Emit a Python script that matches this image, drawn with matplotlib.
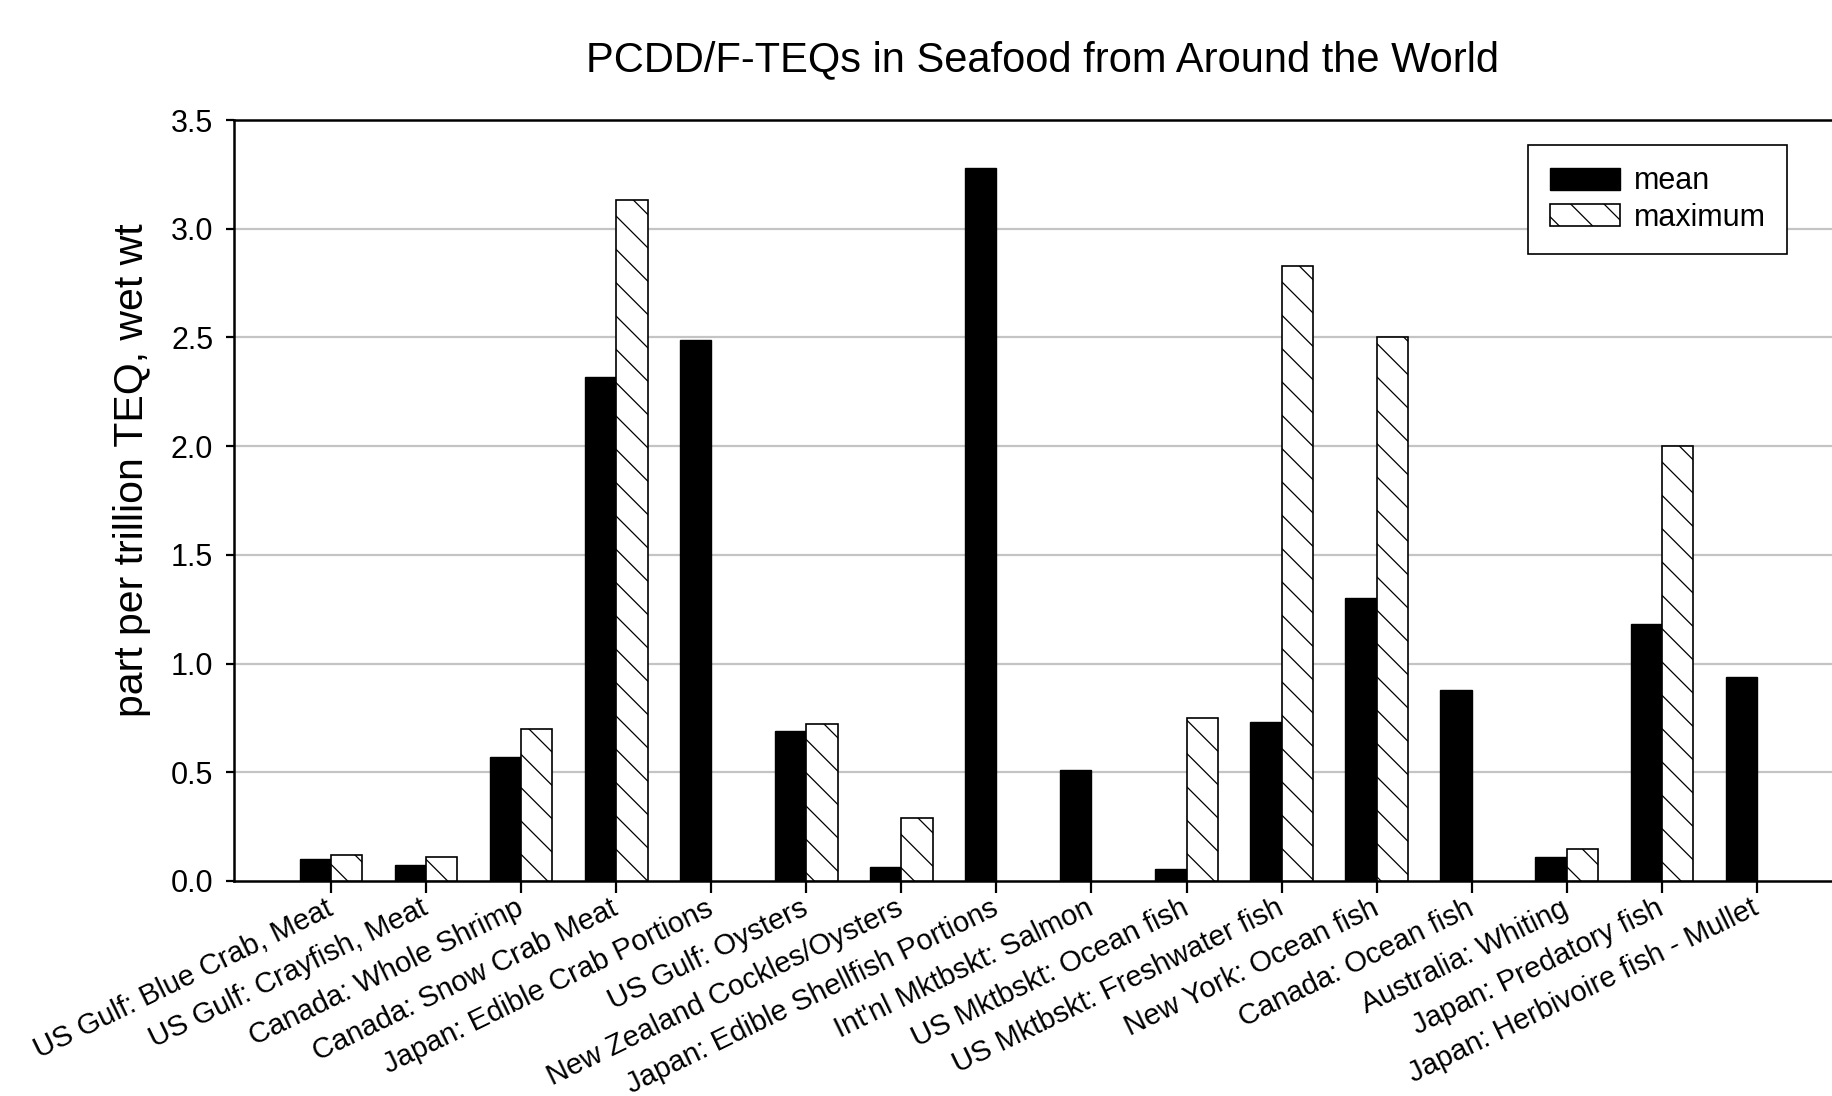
import matplotlib
matplotlib.use("Agg")
import matplotlib.pyplot as plt
import numpy as np

categories = [
    "US Gulf: Blue Crab, Meat",
    "US Gulf: Crayfish, Meat",
    "Canada: Whole Shrimp",
    "Canada: Snow Crab Meat",
    "Japan: Edible Crab Portions",
    "US Gulf: Oysters",
    "New Zealand Cockles/Oysters",
    "Japan: Edible Shellfish Portions",
    "Int'nl Mktbskt: Salmon",
    "US Mktbskt: Ocean fish",
    "US Mktbskt: Freshwater fish",
    "New York: Ocean fish",
    "Canada: Ocean fish",
    "Australia: Whiting",
    "Japan: Predatory fish",
    "Japan: Herbivoire fish - Mullet",
]
mean_vals = [0.10, 0.075, 0.57, 2.32, 2.49, 0.69, 0.065, 3.28, 0.51, 0.055, 0.73, 1.30, 0.88, 0.11, 1.18, 0.94]
max_vals = [0.12, 0.11, 0.70, 3.13, np.nan, 0.72, 0.29, np.nan, np.nan, 0.75, 2.83, 2.50, np.nan, 0.145, 2.00, np.nan]
yticks = [0.0, 0.5, 1.0, 1.5, 2.0, 2.5, 3.0, 3.5]

plt.rcParams['font.family'] = ['Liberation Sans', 'DejaVu Sans']
plt.rcParams['hatch.linewidth'] = 0.9

fig = plt.figure(figsize=(18.33, 10.96), dpi=100)
ax = fig.add_axes([234/1833, 215/1096, 1 - 234/1833, 761/1096])

x = np.arange(len(categories))
w = 0.33
ax.bar(x - w/2, mean_vals, width=w, color='black', edgecolor='black', linewidth=1.0, label='mean', zorder=3)
ax.bar(x + w/2, max_vals, width=w, color='white', edgecolor='black', linewidth=1.2, hatch='\\', label='maximum', zorder=3)

ax.set_xlim(-1.02, 15.80)
ax.set_ylim(0, 3.5)
ax.set_yticks(yticks)
ax.set_yticklabels([f"{v:.1f}" for v in yticks], fontsize=22)
ax.set_xticks(x)
ax.set_xticklabels(categories, fontsize=21, rotation=26, ha='right', va='center', rotation_mode='anchor')
ax.tick_params(axis='x', direction='out', length=8.5, width=1.6, pad=10)
ax.tick_params(axis='y', direction='out', length=6, width=1.6, pad=9)

for y in yticks[1:-1]:
    ax.axhline(y, color='#c4c4c4', linewidth=1.6, zorder=1)

for s in ['left', 'top', 'bottom']:
    ax.spines[s].set_linewidth(1.8)
    ax.spines[s].set_color('black')
ax.spines['right'].set_visible(False)

fig.text(1043/1833, 1 - 60/1096, "PCDD/F-TEQs in Seafood from Around the World",
         ha='center', va='center', fontsize=30)
fig.text(132/1833, 1 - 470/1096, "part per trillion TEQ, wet wt",
         ha='center', va='center', rotation=90, fontsize=29.5)

leg = ax.legend(loc='upper right', bbox_to_anchor=(1787/1833, 1 - 145/1096),
                bbox_transform=fig.transFigure, fontsize=22, frameon=True, fancybox=False,
                edgecolor='black', framealpha=1, borderpad=0.7, labelspacing=0.2,
                handlelength=2.3, handleheight=0.75, handletextpad=0.45, borderaxespad=0)
leg.get_frame().set_linewidth(1.2)

fig.savefig("out.png", dpi=100)
